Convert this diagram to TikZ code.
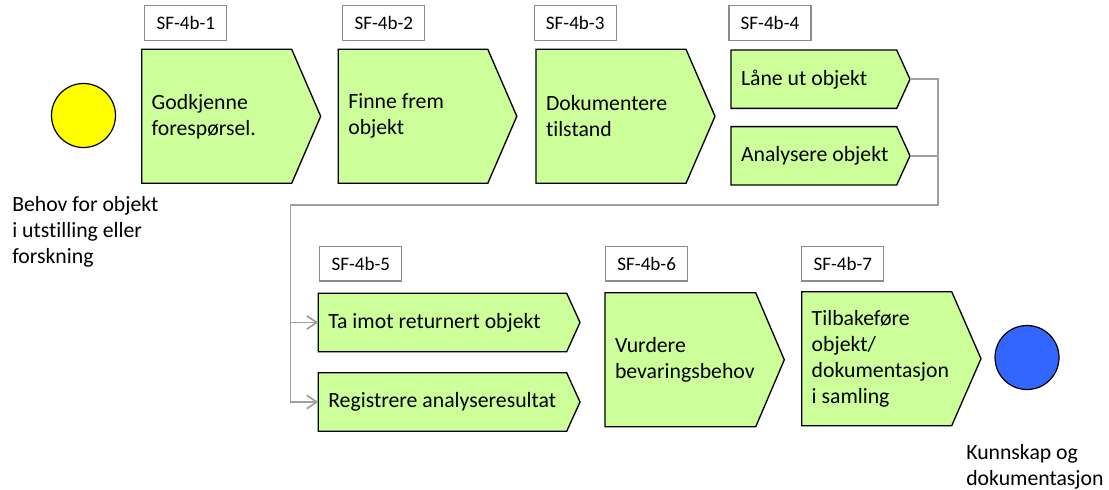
\documentclass[tikz,border=0pt]{standalone}
\usepackage{fontspec}
\setmainfont{Carlito}[Ligatures=CommonOff]
\usetikzlibrary{arrows.meta,positioning,calc,backgrounds}

\definecolor{prosessgronn}{RGB}{204,255,153}
\definecolor{linjegraa}{RGB}{160,160,160}
\definecolor{rammegraa}{RGB}{140,140,140}
\definecolor{startgul}{RGB}{255,255,0}
\definecolor{sluttblaa}{RGB}{51,102,255}

\tikzset{
  prosess/.style={rectangle, anchor=west, minimum height=100.5pt,
                  text width=120pt, inner xsep=7.5pt, inner ysep=0pt,
                  outer sep=0pt, align=flush left,
                  font=\fontsize{16.3}{19.5}\selectfont},
  smal/.style={prosess, minimum height=43.8pt, text width=190pt},
  etikett/.style={draw=rammegraa, line width=0.9pt, fill=white,
                  minimum width=61.5pt, minimum height=26pt, inner sep=0pt,
                  font=\fontsize{14.3}{17}\selectfont},
  hendelse/.style={circle, draw=black, line width=0.9pt, minimum size=48pt,
                   inner sep=0pt},
  tekst/.style={align=flush left, inner sep=0pt,
                font=\fontsize{16.3}{19.5}\selectfont},
  form/.style={draw=black, line width=1pt, fill=prosessgronn, line join=miter},
  linje/.style={draw=linjegraa, line width=1.3pt},
  pil/.style={linje, -{Straight Barb[length=7.5pt,width=10pt]}}
}

\begin{document}
\begin{tikzpicture}[x=0.75pt, y=-0.75pt]
\useasboundingbox (0,0) rectangle (1109,489);

% start and end events
\node[hendelse, fill=startgul] (start) at (83.5,115.5) {};
\node[tekst, anchor=west] (behov) at (12,232)
  {Behov for objekt\\i utstilling eller\\forskning};
\node[hendelse, fill=sluttblaa] (slutt) at (1027,357.5) {};
\node[tekst, anchor=west] (kunnskap) at (966,466.5) {Kunnskap og\\dokumentasjon};

% process steps, upper row
\node[prosess] (b1) at (141.7,116.3) {Godkjenne\\forespørsel.};
\node[prosess] (b2) at (338.3,116.3) {Finne frem\\objekt};
\node[prosess] (b3) at (536,116.3) {Dokumentere\\tilstand};
\node[smal] (b4a) at (731,79.2) {Låne ut objekt};
\node[smal] (b4b) at (731,155.8) {Analysere objekt};

% process steps, lower row
\node[smal] (b5a) at (318.3,322.5) {Ta imot returnert objekt};
\node[smal] (b5b) at (318.3,402) {Registrere analyseresultat};
\node[prosess] (b6) at (605,359.8) {Vurdere\\bevaringsbehov};
\node[prosess] (b7) at (801.7,358.7)
  {Tilbakeføre\\objekt/\\dokumentasjon\\i samling};

% arrow shapes behind the text (name/width/tip)
\begin{scope}[on background layer]
  \foreach \n/\w/\d in {b1/150/29,b2/149.5/29,b3/150/29,b4a/165.7/13.3,
      b4b/165.7/13.3,b5a/248.4/13.3,b5b/248.4/13.3,b6/150.7/28.6,b7/150/29.3}{
    \coordinate (\n-spiss) at ($(\n.west)+(\w+\d,0)$);
    \draw[form] (\n.north west) -- ++(\w,0) -- (\n-spiss)
      -- ($(\n.south west)+(\w,0)$) -- (\n.south west) -- cycle;
  }
\end{scope}

% step labels
\node[etikett] (l1) at (185.8,22.8) {SF-4b-1};
\node[etikett] (l2) at (383.8,22.8) {SF-4b-2};
\node[etikett] (l3) at (575.2,22.8) {SF-4b-3};
\node[etikett] (l4) at (770,22.8) {SF-4b-4};
\node[etikett] (l5) at (360.8,263.7) {SF-4b-5};
\node[etikett] (l6) at (646.7,263.7) {SF-4b-6};
\node[etikett] (l7) at (842.8,263.7) {SF-4b-7};

% connectors
\coordinate (samle) at (938,205);
\coordinate (venstre) at (290.5,205);
\draw[pil] (b4a-spiss) -| (samle) -- (venstre) |- (b5b.west);
\draw[linje] (b4b-spiss) -- (b4b-spiss -| samle);
\draw[pil] (venstre |- b5a.west) -- (b5a.west);
\end{tikzpicture}
\end{document}
